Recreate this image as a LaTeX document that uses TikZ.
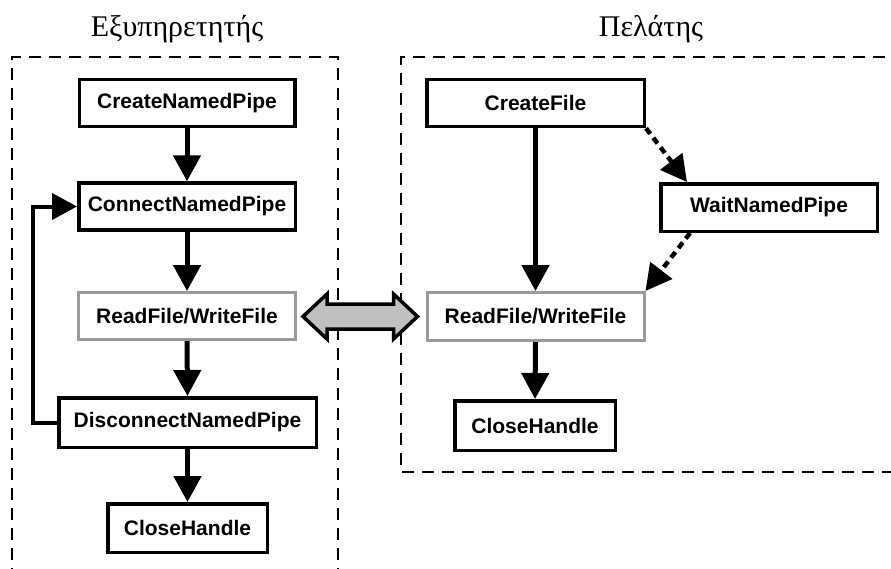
\documentclass[tikz,border=0pt]{standalone}
\usepackage{fontspec}
\setmainfont{Liberation Serif}
\newfontfamily\boxfont{Liberation Sans}
\usetikzlibrary{arrows.meta,calc}
\definecolor{bordergray}{RGB}{155,155,155}
\definecolor{dblfill}{RGB}{192,192,192}
\begin{document}
\begin{tikzpicture}[x=1pt,y=1pt,
  box/.style={draw=black, line width=3.5pt, minimum width=#1, minimum height=47pt,
    inner sep=0pt, fill=white, font=\boxfont\bfseries\fontsize{21}{25}\selectfont},
  box/.default=216.5pt,
  gbox/.style={box=#1, draw=bordergray, line width=3pt},
  gbox/.default=217pt,
  frame/.style={line width=1.6pt, dash pattern=on 12pt off 8pt},
  flow/.style={line width=5pt, -{Triangle[length=26pt,width=27pt]}},
  dflow/.style={line width=4.5pt, dash pattern=on 7pt off 5pt, -{Triangle[length=26pt,width=27pt]}},
  dbl/.style={draw=black, line width=3.5pt, fill=dblfill, line join=miter},
  title/.style={font=\fontsize{30}{34}\selectfont, inner sep=0pt}
]
\useasboundingbox (0,0) rectangle (891,-568);
\clip (0,0) rectangle (891,-568);

% frames
\draw[frame] (12,-580) -- (12,-57) -- (338,-57) -- (338,-580);
\draw[frame] (905,-57) -- (401,-57) -- (401,-472) -- (905,-472);

% titles
\node[title] (tS) at (177,-29) {Εξυπηρετητής};
\node[title] (tC) at (651,-29) {Πελάτης};

% server column
\node[box=215.5pt] (cnp) at (187,-103) {CreateNamedPipe};
\node[box] (conn) at (187,-206.5) {ConnectNamedPipe};
\node[gbox] (rwL) at (187,-316) {ReadFile/WriteFile};
\node[box=257.5pt, minimum height=49.5pt] (disc) at (187.5,-422.5) {DisconnectNamedPipe};
\node[box=159.5pt, minimum height=48.5pt] (chL) at (187.5,-528) {CloseHandle};

% client column
\node[box=217.5pt] (cf) at (535.5,-103) {CreateFile};
\node[box, minimum height=47.5pt] (wnp) at (769,-207.5) {WaitNamedPipe};
\node[gbox, minimum height=48pt] (rwR) at (535.5,-316.5) {ReadFile/WriteFile};
\node[box=160.5pt, minimum height=49.5pt] (chR) at (535,-425.5) {CloseHandle};

% server arrows
\draw[flow] (cnp.south) -- (conn.north);
\draw[flow] (conn.south) -- (rwL.north);
\draw[flow] (rwL.south) -- (disc.north);
\draw[flow] (disc.south) -- (chL.north);
\draw[line width=4pt, -{Triangle[length=25pt,width=26pt]}] (disc.west) -- ++(-24,0) |- (conn.west);

% client arrows
\draw[flow] (cf.south) -- (rwR.north);
\draw[flow] (rwR.south) -- (chR.north);
\draw[dflow] (cf.south east) -- ($(wnp.north west)+(28,0)$);
\draw[dflow] ($(wnp.south west)+(31,0)$) -- (rwR.north east);

% double arrow between the ReadFile/WriteFile boxes
\coordinate (dl) at ($(rwL.east)+(6,-0.5)$);
\coordinate (dr) at ($(rwR.west)+(-8,0)$);
\draw[dbl] (dl) -- ($(dl)+(24,22.5)$) -- ($(dl)+(24,12.5)$) -- ($(dr)+(-24,12.5)$)
  -- ($(dr)+(-24,22.5)$) -- (dr) -- ($(dr)+(-24,-22.5)$) -- ($(dr)+(-24,-12.5)$)
  -- ($(dl)+(24,-12.5)$) -- ($(dl)+(24,-22.5)$) -- cycle;
\end{tikzpicture}
\end{document}
